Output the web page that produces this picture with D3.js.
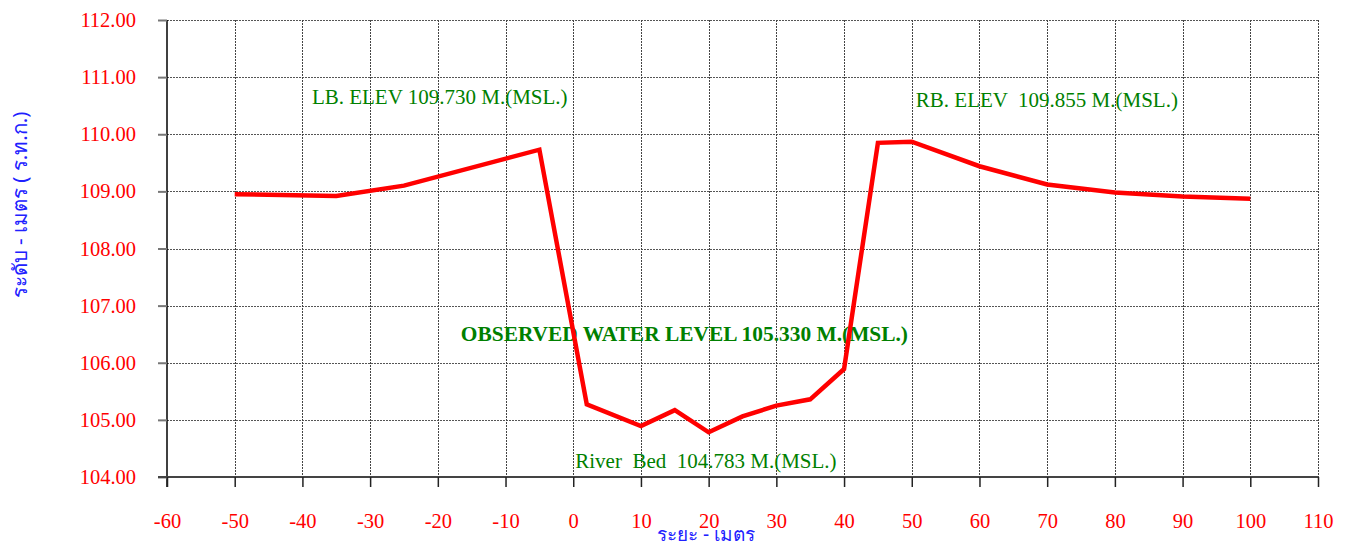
<!DOCTYPE html>
<html>
<head>
<meta charset="utf-8">
<script src="https://cdn.jsdelivr.net/npm/d3@7"></script>
<style>
  html, body { margin: 0; padding: 0; background: #fff; }
  svg { display: block; }
</style>
</head>
<body>
<svg id="chart" width="1351" height="547"></svg>
<script>
// ---- data ----
const distances = [-50, -35, -25, -5, 2, 10, 15, 20, 25, 30, 35, 40, 45, 50, 60, 70, 80, 90, 100];
const elevations = [108.95, 108.92, 109.10, 109.73, 105.27, 104.89, 105.17, 104.783, 105.06, 105.25, 105.36, 105.89, 109.85, 109.87, 109.44, 109.12, 108.98, 108.91, 108.87];
const xTicks = [-60, -50, -40, -30, -20, -10, 0, 10, 20, 30, 40, 50, 60, 70, 80, 90, 100, 110];
const yTicks = [104, 105, 106, 107, 108, 109, 110, 111, 112];
const annotations = [
  { text: "LB. ELEV 109.730 M.(MSL.)", x: -38.6, y: 110.53, bold: false },
  { text: "RB. ELEV  109.855 M.(MSL.)", x: 50.6, y: 110.48, bold: false },
  { text: "OBSERVED WATER LEVEL 105.330 M.(MSL.)", x: -16.6, y: 106.38, bold: true },
  { text: "River  Bed  104.783 M.(MSL.)", x: 0.3, y: 104.16, bold: false }
];
const xTitle = "ระยะ - เมตร";
const yTitle = "ระดับ - เมตร ( ร.ท.ก.)";

// ---- layout ----
const svg = d3.select("#chart");
const pLeft = 167, pRight = 1318, pTop = 20, pBottom = 477;
const x = d3.scaleLinear().domain([-60, 110]).range([pLeft, pRight]);
const y = d3.scaleLinear().domain([104, 112]).range([pBottom, pTop]);
const serif = "'Liberation Serif', 'Times New Roman', serif";

// grid
const grid = svg.append("g");
grid.selectAll("line.h").data(yTicks.filter(d => d !== 104)).enter().append("line")
  .attr("x1", pLeft).attr("x2", pRight)
  .attr("y1", d => Math.round(y(d)) + 0.5).attr("y2", d => Math.round(y(d)) + 0.5)
  .attr("stroke", "#555").attr("stroke-width", 1).attr("stroke-dasharray", "2,1");
grid.selectAll("line.v").data(xTicks.filter(d => d !== -60)).enter().append("line")
  .attr("x1", d => Math.round(x(d)) + 0.5).attr("x2", d => Math.round(x(d)) + 0.5)
  .attr("y1", pTop).attr("y2", pBottom)
  .attr("stroke", "#444").attr("stroke-width", 1).attr("stroke-dasharray", "2,1");

// y axis
const yAxis = svg.append("g").attr("transform", `translate(${pLeft},0)`)
  .attr("font-family", serif)
  .call(d3.axisLeft(y).tickValues(yTicks).tickFormat(d => d.toFixed(2)).tickSize(9).tickPadding(22));
yAxis.attr("font-family", serif);
yAxis.select(".domain").attr("d", `M0,${pTop}V${pBottom + 10}`).attr("stroke", "#000").attr("stroke-width", 1.5);
yAxis.selectAll(".tick line").attr("stroke", "#777").attr("stroke-width", 2);
yAxis.selectAll(".tick text").attr("fill", "#ff0000").style("font-family", serif).attr("font-size", 20.5);

// x axis
const xAxis = svg.append("g").attr("transform", `translate(0,${pBottom})`)
  .call(d3.axisBottom(x).tickValues(xTicks).tickFormat(d => String(d)).tickSize(10).tickPadding(26));
xAxis.attr("font-family", serif);
xAxis.select(".domain").attr("d", `M${pLeft - 9},0H${pRight}`).attr("stroke", "#444").attr("stroke-width", 2);
xAxis.selectAll(".tick line").attr("stroke", "#222").attr("stroke-width", 1.5);
xAxis.selectAll(".tick text").attr("fill", "#ff0000").style("font-family", serif).attr("font-size", 20.5);

// annotations
svg.append("g").selectAll("text").data(annotations).enter().append("text")
  .attr("x", d => x(d.x)).attr("y", d => y(d.y))
  .attr("fill", "#008000")
  .style("font-family", serif)
  .attr("font-weight", d => d.bold ? "bold" : "normal")
  .attr("font-size", d => d.bold ? 21.4 : 21)
  .style("white-space", "pre")
  .text(d => d.text);

// profile line
const line = d3.line().x((d, i) => x(distances[i])).y(d => y(d));
svg.append("path").datum(elevations)
  .attr("d", line)
  .attr("fill", "none").attr("stroke", "#ff0000").attr("stroke-width", 4.5)
  .attr("stroke-linejoin", "miter");

// axis titles
svg.append("text").attr("x", 706).attr("y", 541)
  .attr("text-anchor", "middle").attr("fill", "#2020ff")
  .attr("font-family", "'Noto Sans', sans-serif").attr("font-size", 19)
  .text(xTitle);
svg.append("text").attr("transform", "translate(27,205) rotate(-90)")
  .attr("text-anchor", "middle").attr("fill", "#2020ff")
  .attr("font-family", "'Noto Sans', sans-serif").attr("font-size", 20.5)
  .text(yTitle);
</script>
</body>
</html>
